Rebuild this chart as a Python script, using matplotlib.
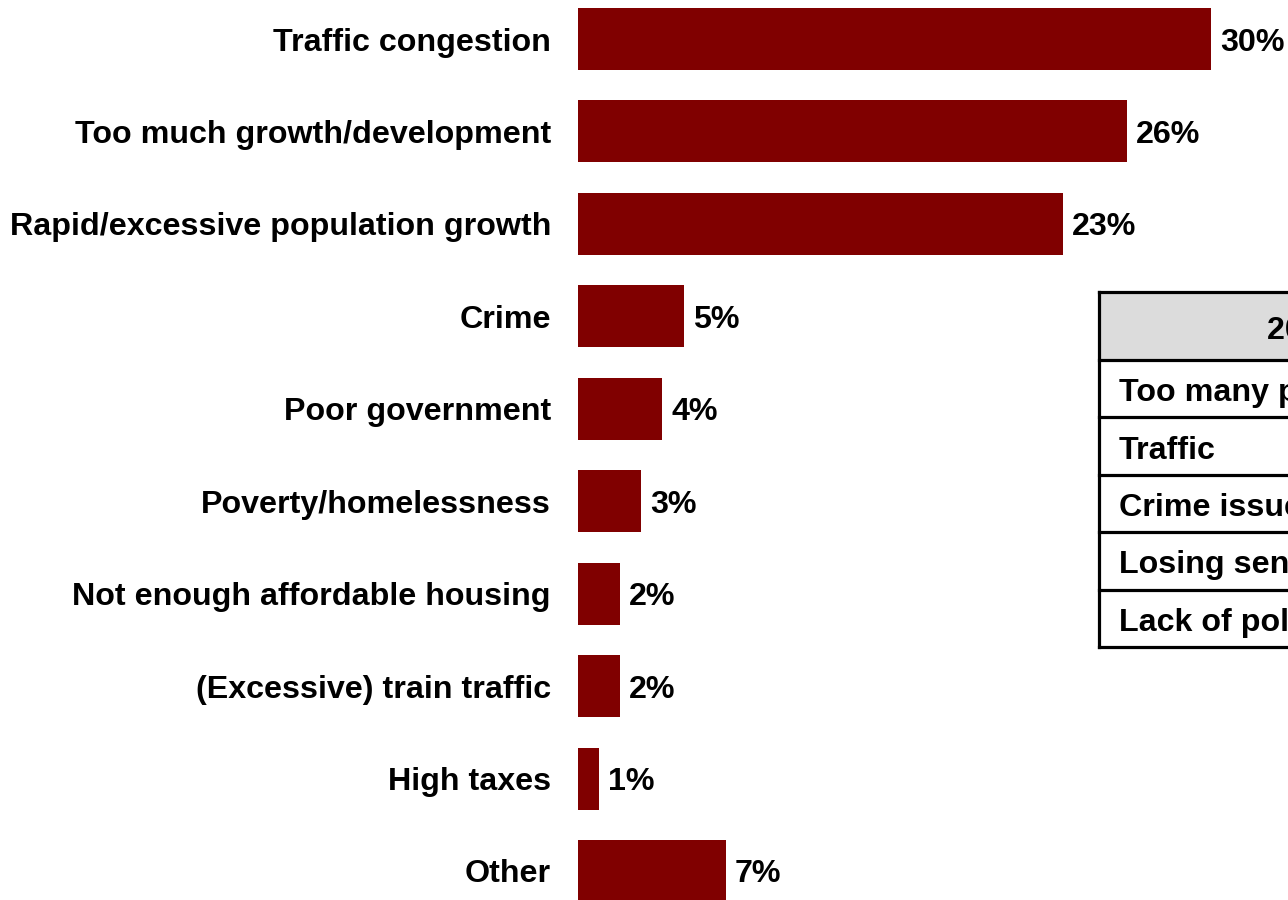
import matplotlib
matplotlib.use("Agg")
import matplotlib.pyplot as plt
from matplotlib.patches import Rectangle

plt.rcParams['font.family'] = ['Liberation Sans', 'DejaVu Sans']

categories = [
    "Traffic congestion",
    "Too much growth/development",
    "Rapid/excessive population growth",
    "Crime",
    "Poor government",
    "Poverty/homelessness",
    "Not enough affordable housing",
    "(Excessive) train traffic",
    "High taxes",
    "Other",
]
values = [30, 26, 23, 5, 4, 3, 2, 2, 1, 7]

table_header = "2008 Survey"
table_rows = [
    "Too many people",
    "Traffic",
    "Crime issues",
    "Losing sense of community",
    "Lack of police presence",
]

BAR_COLOR = "#800000"
FS = 23.2
W, H = 1288, 900

fig = plt.figure(figsize=(W / 100, H / 100), dpi=100)

# --- bar chart ---
ax_left = 578
px_per_unit = (1211 - 578) / 30.0
ax = fig.add_axes([ax_left / W, 0, (W - ax_left) / W, 1])
ypos = list(range(len(categories)))
ax.barh(ypos, values, height=0.67, color=BAR_COLOR)
ax.set_xlim(0, (W - ax_left) / px_per_unit)
step = 92.44
ax.set_ylim(len(categories) - 1 + (H - 871) / step, -39 / step)
ax.set_yticks(ypos)
ax.set_yticklabels(categories, fontsize=FS, fontweight="bold", va="center_baseline")
ax.tick_params(axis="y", length=0, pad=19.5)
ax.set_xticks([])
for s in ax.spines.values():
    s.set_visible(False)
for y, v in zip(ypos, values):
    ax.annotate(f"{v}%", xy=(v, y), xytext=(6.5, 0), textcoords="offset points",
                ha="left", va="center_baseline", fontsize=FS, fontweight="bold")

# --- table (extends past right edge of the figure) ---
t_left, t_top = 1099, 292
header_h, row_h = 68, 57.4
tab_ax = fig.add_axes([1090 / W, 0, (W - 1090) / W, 1])
tab_ax.set_xlim(1090, W)
tab_ax.set_ylim(H, 0)
tab_ax.axis("off")
n = len(table_rows)
t_bottom = t_top + header_h + n * row_h
tab_ax.add_patch(Rectangle((t_left, t_top), W - t_left + 50, header_h,
                           facecolor="#DCDCDC", edgecolor="none"))
lw = 2.3
lines_y = [t_top, t_top + header_h] + [t_top + header_h + (i + 1) * row_h for i in range(n)]
for yy in lines_y:
    tab_ax.plot([t_left, W + 10], [yy, yy], color="black", lw=lw, solid_capstyle="projecting")
tab_ax.plot([t_left, t_left], [t_top, t_bottom], color="black", lw=lw, solid_capstyle="projecting")
tab_ax.text(1267, t_top + header_h / 2 + 1, table_header, ha="left", va="center_baseline",
            fontsize=FS, fontweight="bold", clip_on=True)
for i, r in enumerate(table_rows):
    tab_ax.text(1119, t_top + header_h + (i + 0.5) * row_h + 1, r, ha="left",
                va="center_baseline", fontsize=FS, fontweight="bold", clip_on=True)

fig.savefig("out.png", dpi=100)
